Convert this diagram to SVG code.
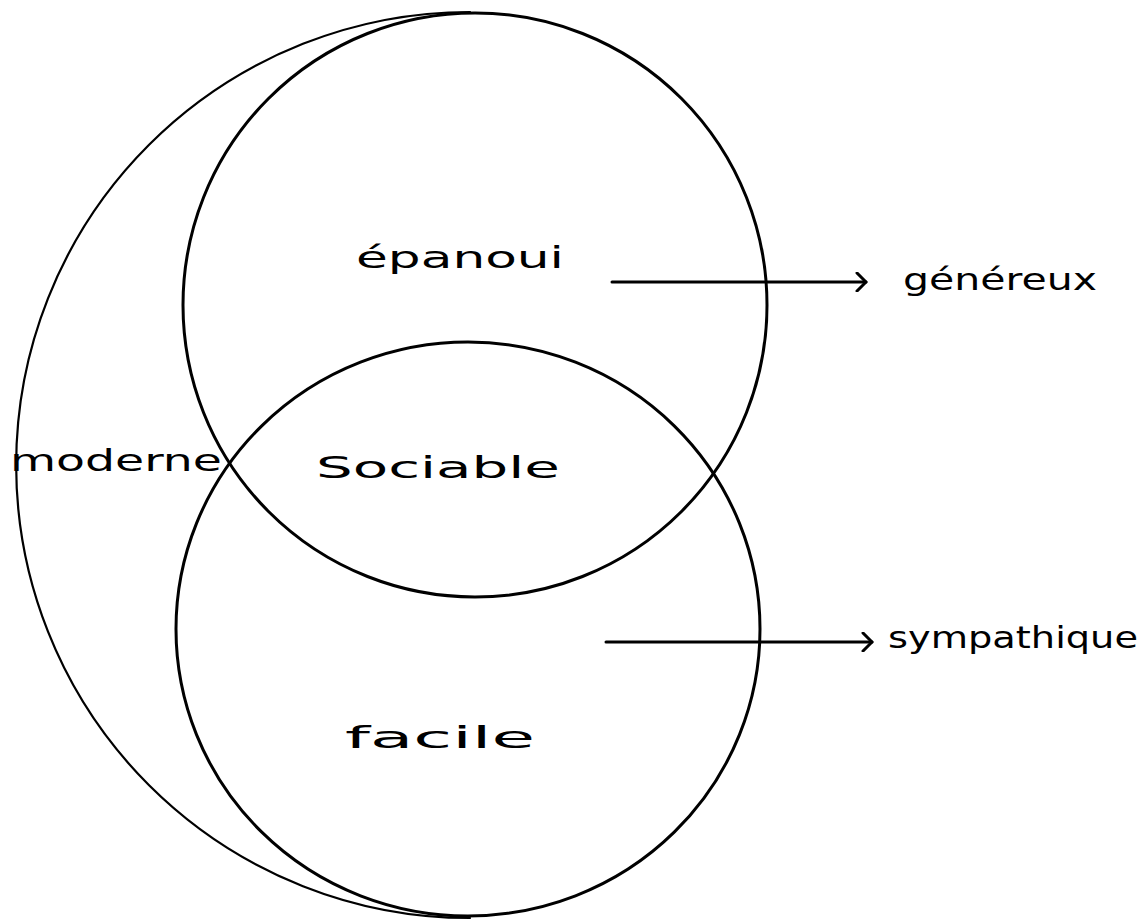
<svg xmlns="http://www.w3.org/2000/svg" width="1140" height="921" viewBox="0 0 1140 921">
<style>
.ln{fill:none;stroke:#000;stroke-width:3;stroke-linecap:round;stroke-linejoin:round}
.thin{fill:none;stroke:#000;stroke-width:2.2;stroke-linecap:round}
.t{font-family:"DejaVu Sans","Liberation Sans",sans-serif;font-size:30px;fill:#000}
</style>
<defs>
<marker id="chev" markerWidth="14" markerHeight="20" refX="11" refY="10" orient="auto" markerUnits="userSpaceOnUse">
<path d="M2,1 L11,10 L2,19" fill="none" stroke="#000" stroke-width="3" stroke-linecap="round" stroke-linejoin="round"/>
</marker>
</defs>
<rect width="1140" height="921" fill="#fff"/>
<g id="moderne">
<path class="thin" d="M470,12 A454,453 0 0 0 470,918"/>
<text class="t" x="10" y="471" textLength="212" lengthAdjust="spacingAndGlyphs">moderne</text>
</g>
<g id="epanoui">
<circle class="ln" cx="475" cy="305" r="292"/>
<text class="t" x="356" y="268" textLength="208" lengthAdjust="spacingAndGlyphs">épanoui</text>
</g>
<g id="facile">
<ellipse class="ln" cx="468" cy="629" rx="292" ry="287"/>
<text class="t" x="345" y="748" textLength="190" lengthAdjust="spacingAndGlyphs">facile</text>
</g>
<g id="sociable">
<text class="t" x="316" y="478" textLength="244" lengthAdjust="spacingAndGlyphs">Sociable</text>
</g>
<g id="connectors">
<line class="ln" x1="612" y1="282" x2="866" y2="282" marker-end="url(#chev)"/>
<line class="ln" x1="606" y1="642" x2="872" y2="642" marker-end="url(#chev)"/>
</g>
<g id="genereux">
<text class="t" x="903" y="290" textLength="194" lengthAdjust="spacingAndGlyphs">généreux</text>
</g>
<g id="sympathique">
<text class="t" x="888" y="648" textLength="250" lengthAdjust="spacingAndGlyphs">sympathique</text>
</g>
</svg>
